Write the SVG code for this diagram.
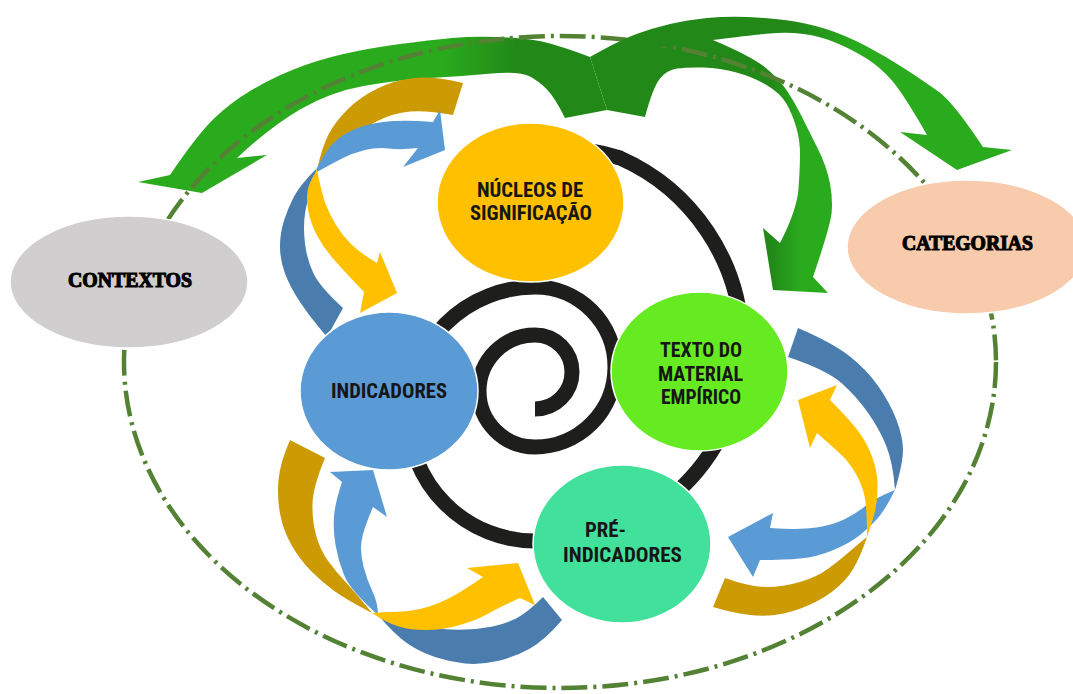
<svg xmlns="http://www.w3.org/2000/svg" width="1073" height="694" viewBox="0 0 1073 694">
<defs>
<linearGradient id="gA" gradientUnits="userSpaceOnUse" x1="445" y1="0" x2="515" y2="0"><stop offset="0" stop-color="#2AAA1D"/><stop offset="1" stop-color="#228918"/></linearGradient>
<linearGradient id="gB" gradientUnits="userSpaceOnUse" x1="772" y1="0" x2="800" y2="0"><stop offset="0" stop-color="#228918"/><stop offset="1" stop-color="#2AAA1D"/></linearGradient>
<linearGradient id="gC" gradientUnits="userSpaceOnUse" x1="795" y1="0" x2="855" y2="0"><stop offset="0" stop-color="#228918"/><stop offset="1" stop-color="#2AAA1D"/></linearGradient>
<style>
.gold{fill:#CC9A03}
.yel{fill:#FFC000}
.lb{fill:#5B9BD5}
.db{fill:#4A7DAD}
.node{stroke:#ffffff;stroke-width:1.5}
.lbl{font-family:"Roboto Condensed","DejaVu Sans Condensed","Liberation Sans Narrow",Roboto,sans-serif;font-weight:700;font-size:20px;fill:#161616}
.ser{font-family:"Liberation Serif","DejaVu Serif",serif;font-weight:700;font-size:20px;fill:#000;stroke:#000;stroke-width:1.1}
</style>
</defs>
<rect width="1073" height="694" fill="#ffffff"/>
<g id="spiral">
<path d="M 535,409 A 37 37 0 0 0 535,335 A 56 56 0 0 0 535,447 A 80 80 0 0 0 535,287 A 127 127 0 0 0 535,541 A 195 195 0 0 0 742,340 A 205 205 0 0 0 620,158 A 210 210 0 0 0 545,148" fill="none" stroke="#1E1E1C" stroke-width="15"/>
</g>
<g id="connectors">
<path id="arrow-contextos" fill="url(#gA)" d="M 565,118 L 607,110 L 598,82 L 590,57 Q 553,43 536.5,40.5 Q 520,38 497,37 Q 474,36 452,38 Q 430,40 400,44 Q 370,48 343.5,54 Q 317,60 293.5,69.5 Q 270,79 250,91 Q 230,103 213.5,119 Q 197,135 170,175 L 138,182 L 202,193 L 267,155 L 237,158 Q 270,127 300,109.5 Q 330,92 363.5,86 Q 397,80 430,78 Q 463,76 491.5,73.5 Q 520,71 530,76.5 Q 540,82 547.5,90 Q 555,98 565,118 Z"/>
<path id="arrow-texto" fill="url(#gB)" d="M 607,110 L 645,117 Q 653,87 660,78.5 Q 667,70 677,68.5 Q 687,67 703.5,67.5 Q 720,68 736.5,72.5 Q 753,77 766.5,85 Q 780,93 786,103 Q 792,113 796,126.5 Q 800,140 800,153.5 Q 800,167 798.5,188.5 Q 797,210 780,243 L 763,228 L 773,290 L 828,293 L 813,277 Q 830,227 831.5,213.5 Q 833,200 830,183.5 Q 827,167 817,147 Q 807,127 801,115 Q 795,103 787.5,91.5 Q 780,80 766.5,68.5 Q 753,57 713,40 L 640,35 L 590,57 Z"/>
<ellipse id="boundary" cx="560" cy="362" rx="436" ry="326" fill="none" stroke="#548235" stroke-width="4.5" stroke-dasharray="26 6 3 6"/>
<path id="arrow-categorias" fill="url(#gC)" d="M 590,57 Q 620,40 636.5,34 Q 653,28 670,24 Q 687,20 707,18 Q 727,16 748.5,17 Q 770,18 788.5,20.5 Q 807,23 826,29 Q 845,35 866,46 Q 887,57 906,69.5 Q 925,82 939,92 Q 953,102 983,147 L 1012,150 L 957,170 L 900,132 L 927,135 Q 903,93 891.5,80 Q 880,67 866.5,58.5 Q 853,50 836.5,43 Q 820,36 803.5,34 Q 787,32 770,33.5 Q 753,35 713,40 L 590,57 Z"/>
<g id="cycle-top-left">
<path class="gold" d="M 463,83 Q 433,76 414,78 Q 395,80 377.5,88.5 Q 360,97 347.5,109.5 Q 335,122 328.5,134.5 Q 322,147 317,170 Q 340,150 350,140 Q 360,130 376.5,121.5 Q 393,113 410,111.5 Q 427,110 453,115 Z"/>
<path class="db" d="M 317,168 Q 300,185 294,196.5 Q 288,208 284,220.5 Q 280,233 280,246.5 Q 280,260 285,273.5 Q 290,287 300,302 Q 310,317 327,337 L 343,308 Q 320,287 313.5,273.5 Q 307,260 305,243.5 Q 303,227 305,213.5 Q 307,200 317,168 Z"/>
<path class="yel" d="M 317,170 Q 322,195 326,205 Q 330,215 336,225 Q 342,235 351,244 Q 360,253 377,263 L 380,252 L 397,293 L 360,313 L 364,292 Q 343,270 333,258.5 Q 323,247 317,235.5 Q 311,224 308.5,212 Q 306,200 307.5,191 Q 309,182 317,170 Z"/>
<path class="lb" d="M 317,168 Q 327,147 338.5,138.5 Q 350,130 363.5,126 Q 377,122 393.5,121 Q 410,120 433,122 L 440,110 L 445,150 L 403,167 L 418,148 Q 400,150 388.5,148.5 Q 377,147 365,150 Q 353,153 343,158 Q 333,163 317,172 Z"/>
</g>
<g id="cycle-bottom-left">
<path class="gold" d="M 290,440 Q 280,463 278.5,480 Q 277,497 280,513.5 Q 283,530 291.5,545 Q 300,560 311.5,571.5 Q 323,583 335,591.5 Q 347,600 372,613 Q 355,592 346,582.5 Q 337,573 328.5,561.5 Q 320,550 316,535 Q 312,520 312.5,503.5 Q 313,487 325,458 Z"/>
<path class="db" d="M 378,615 Q 395,620 407.5,623.5 Q 420,627 435,628.5 Q 450,630 465,629.5 Q 480,629 492.5,626.5 Q 505,624 516,618.5 Q 527,613 543,597 L 562,620 Q 545,640 530,648.5 Q 515,657 497.5,661 Q 480,665 465,663.5 Q 450,662 435,657 Q 420,652 407.5,643.5 Q 395,635 378,615 Z"/>
<path class="lb" d="M 342,482 L 330,472 L 373,470 L 387,517 L 373,507 Q 363,530 361.5,541.5 Q 360,553 363.5,566.5 Q 367,580 372.5,591.5 Q 378,603 378,615 Q 350,590 344,575 Q 338,560 335.5,545 Q 333,530 334,516.5 Q 335,503 342,482 Z"/>
<path class="yel" d="M 372,613 Q 387,623 398.5,626.5 Q 410,630 426.5,630 Q 443,630 460,625 Q 477,620 488.5,613.5 Q 500,607 520,598 L 535,605 L 518,563 L 467,568 L 483,577 Q 460,593 446.5,599.5 Q 433,606 420,609 Q 407,612 395,612 Q 383,612 372,613 Z"/>
</g>
<g id="cycle-right">
<path class="db" d="M 788,357 L 798,328 Q 833,343 850,356.5 Q 867,370 878.5,386.5 Q 890,403 896.5,420 Q 903,437 903,450 Q 903,463 895,490 Q 893,463 886.5,446.5 Q 880,430 868.5,413.5 Q 857,397 842,383.5 Q 827,370 788,357 Z"/>
<path class="gold" d="M 867,537 Q 857,567 845,580 Q 833,593 816.5,601.5 Q 800,610 783.5,613.5 Q 767,617 750,615 Q 733,613 713,607 L 725,578 Q 750,587 766.5,587 Q 783,587 800,582 Q 817,577 828.5,568.5 Q 840,560 848.5,552.5 Q 857,545 867,537 Z"/>
<path class="lb" d="M 895,490 Q 885,510 877.5,518.5 Q 870,527 860,535 Q 850,543 833.5,550 Q 817,557 800,558.5 Q 783,560 760,560 L 753,577 L 728,537 L 773,513 L 770,528 Q 800,530 816.5,527.5 Q 833,525 845,519 Q 857,513 866,505.5 Q 875,498 895,490 Z"/>
<path class="yel" d="M 817,433 L 810,448 L 798,400 L 837,385 L 830,400 Q 850,420 858.5,431.5 Q 867,443 872,456.5 Q 877,470 877.5,483.5 Q 878,497 875.5,508.5 Q 873,520 867,537 Q 867,510 865,498.5 Q 863,487 856.5,475 Q 850,463 841.5,455 Q 833,447 817,433 Z"/>
</g>
</g>
<g id="node-contextos">
<ellipse class="node" cx="129" cy="282" rx="119" ry="66" fill="#D0CECE"/>
<text class="ser" x="68" y="287" textLength="124" lengthAdjust="spacingAndGlyphs">CONTEXTOS</text>
</g>
<g id="node-categorias">
<ellipse class="node" cx="967" cy="247" rx="120" ry="67" fill="#F8CBAD"/>
<text class="ser" x="902" y="250" textLength="131" lengthAdjust="spacingAndGlyphs">CATEGORIAS</text>
</g>
<g id="node-nucleos">
<ellipse class="node" cx="530.5" cy="202.5" rx="93.5" ry="79.5" fill="#FFC000"/>
<text class="lbl" x="477" y="197" textLength="106" lengthAdjust="spacingAndGlyphs">NÚCLEOS DE</text>
<text class="lbl" x="470" y="220" textLength="122" lengthAdjust="spacingAndGlyphs">SIGNIFICAÇÃO</text>
</g>
<g id="node-texto">
<ellipse class="node" cx="699.5" cy="371.5" rx="88.5" ry="79.5" fill="#66EB22"/>
<text class="lbl" x="660" y="357" textLength="82" lengthAdjust="spacingAndGlyphs">TEXTO DO</text>
<text class="lbl" x="658" y="381" textLength="85" lengthAdjust="spacingAndGlyphs">MATERIAL</text>
<text class="lbl" x="661" y="404" textLength="80" lengthAdjust="spacingAndGlyphs">EMPÍRICO</text>
</g>
<g id="node-indicadores">
<ellipse class="node" cx="389" cy="391" rx="89" ry="79" fill="#5B9BD5"/>
<text class="lbl" x="331" y="398" textLength="116" lengthAdjust="spacingAndGlyphs">INDICADORES</text>
</g>
<g id="node-pre-indicadores">
<ellipse class="node" cx="622" cy="544" rx="89" ry="79" fill="#42E19B"/>
<text class="lbl" x="585" y="537" textLength="41" lengthAdjust="spacingAndGlyphs">PRÉ-</text>
<text class="lbl" x="563" y="562" textLength="119" lengthAdjust="spacingAndGlyphs">INDICADORES</text>
</g>
</svg>
